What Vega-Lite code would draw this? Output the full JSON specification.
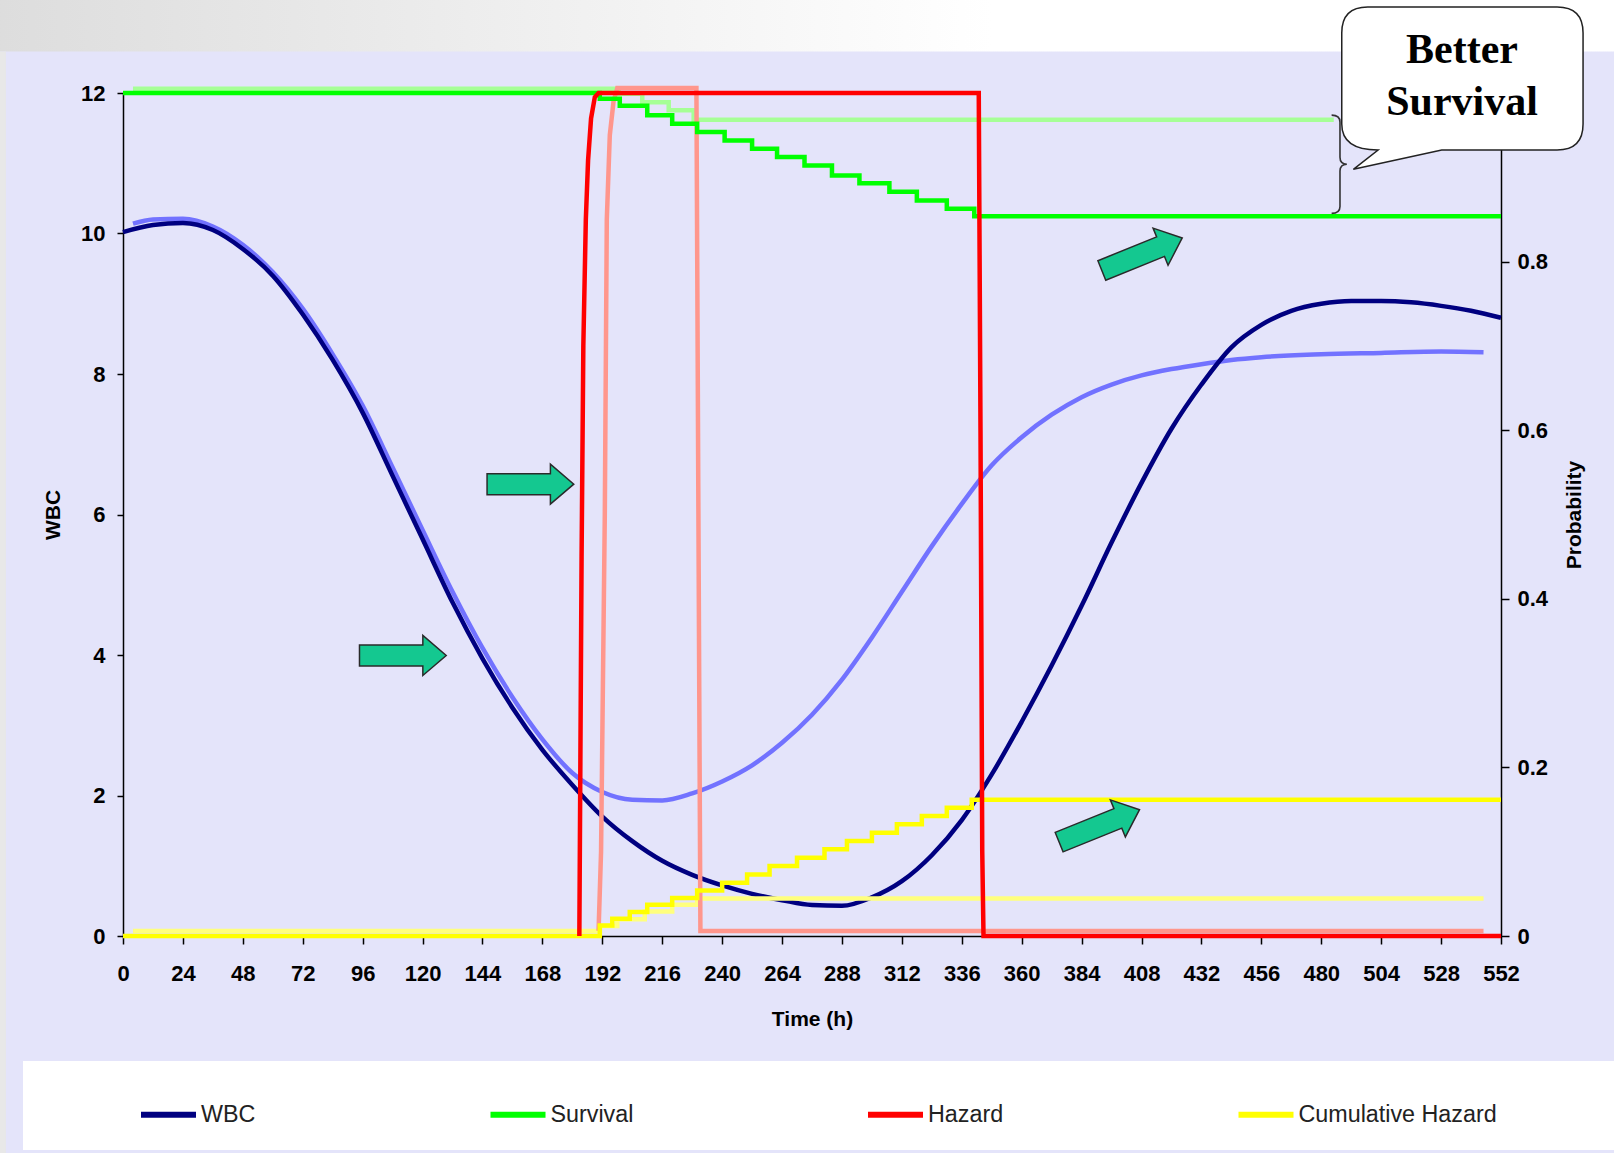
{
  "$schema": "https://vega.github.io/schema/vega-lite/v6.json",
  "width": 1378,
  "height": 843,
  "autosize": {"type": "none"},
  "padding": {"left": 123, "top": 93, "right": 113, "bottom": 217},
  "background": "#E4E4FA",
  "datasets": {
    "wbc": [
      {"t": 0, "wbc": 10.02, "series": "WBC"}, {"t": 12, "wbc": 10.12, "series": "WBC"}, {"t": 24, "wbc": 10.15, "series": "WBC"},
      {"t": 36, "wbc": 10.05, "series": "WBC"}, {"t": 48, "wbc": 9.78, "series": "WBC"}, {"t": 60, "wbc": 9.4, "series": "WBC"},
      {"t": 72, "wbc": 8.85, "series": "WBC"}, {"t": 84, "wbc": 8.2, "series": "WBC"}, {"t": 96, "wbc": 7.45, "series": "WBC"},
      {"t": 108, "wbc": 6.55, "series": "WBC"}, {"t": 120, "wbc": 5.65, "series": "WBC"}, {"t": 132, "wbc": 4.75, "series": "WBC"},
      {"t": 144, "wbc": 3.95, "series": "WBC"}, {"t": 156, "wbc": 3.25, "series": "WBC"}, {"t": 168, "wbc": 2.65, "series": "WBC"},
      {"t": 180, "wbc": 2.15, "series": "WBC"}, {"t": 192, "wbc": 1.7, "series": "WBC"}, {"t": 204, "wbc": 1.35, "series": "WBC"},
      {"t": 216, "wbc": 1.07, "series": "WBC"}, {"t": 228, "wbc": 0.87, "series": "WBC"}, {"t": 240, "wbc": 0.72, "series": "WBC"},
      {"t": 252, "wbc": 0.6, "series": "WBC"}, {"t": 264, "wbc": 0.51, "series": "WBC"}, {"t": 276, "wbc": 0.44, "series": "WBC"},
      {"t": 288, "wbc": 0.43, "series": "WBC"}, {"t": 300, "wbc": 0.55, "series": "WBC"}, {"t": 312, "wbc": 0.78, "series": "WBC"},
      {"t": 324, "wbc": 1.15, "series": "WBC"}, {"t": 336, "wbc": 1.65, "series": "WBC"}, {"t": 348, "wbc": 2.3, "series": "WBC"},
      {"t": 360, "wbc": 3.05, "series": "WBC"}, {"t": 372, "wbc": 3.85, "series": "WBC"}, {"t": 384, "wbc": 4.7, "series": "WBC"},
      {"t": 396, "wbc": 5.6, "series": "WBC"}, {"t": 408, "wbc": 6.45, "series": "WBC"}, {"t": 420, "wbc": 7.22, "series": "WBC"},
      {"t": 432, "wbc": 7.85, "series": "WBC"}, {"t": 444, "wbc": 8.38, "series": "WBC"}, {"t": 456, "wbc": 8.7, "series": "WBC"},
      {"t": 468, "wbc": 8.9, "series": "WBC"}, {"t": 480, "wbc": 9.0, "series": "WBC"}, {"t": 492, "wbc": 9.04, "series": "WBC"},
      {"t": 504, "wbc": 9.04, "series": "WBC"}, {"t": 516, "wbc": 9.02, "series": "WBC"}, {"t": 528, "wbc": 8.97, "series": "WBC"},
      {"t": 540, "wbc": 8.9, "series": "WBC"}, {"t": 552, "wbc": 8.8, "series": "WBC"}
    ],
    "wbc2": [
      {"t": 4, "wbc": 10.14, "series": "WBC 2"}, {"t": 12, "wbc": 10.2, "series": "WBC 2"}, {"t": 24, "wbc": 10.21, "series": "WBC 2"},
      {"t": 36, "wbc": 10.1, "series": "WBC 2"}, {"t": 48, "wbc": 9.84, "series": "WBC 2"}, {"t": 60, "wbc": 9.45, "series": "WBC 2"},
      {"t": 72, "wbc": 8.93, "series": "WBC 2"}, {"t": 84, "wbc": 8.28, "series": "WBC 2"}, {"t": 96, "wbc": 7.55, "series": "WBC 2"},
      {"t": 108, "wbc": 6.67, "series": "WBC 2"}, {"t": 120, "wbc": 5.78, "series": "WBC 2"}, {"t": 132, "wbc": 4.9, "series": "WBC 2"},
      {"t": 144, "wbc": 4.1, "series": "WBC 2"}, {"t": 156, "wbc": 3.4, "series": "WBC 2"}, {"t": 168, "wbc": 2.8, "series": "WBC 2"},
      {"t": 180, "wbc": 2.32, "series": "WBC 2"}, {"t": 192, "wbc": 2.05, "series": "WBC 2"}, {"t": 204, "wbc": 1.94, "series": "WBC 2"},
      {"t": 216, "wbc": 1.93, "series": "WBC 2"}, {"t": 228, "wbc": 2.03, "series": "WBC 2"}, {"t": 240, "wbc": 2.2, "series": "WBC 2"},
      {"t": 252, "wbc": 2.43, "series": "WBC 2"}, {"t": 264, "wbc": 2.75, "series": "WBC 2"}, {"t": 276, "wbc": 3.15, "series": "WBC 2"},
      {"t": 288, "wbc": 3.65, "series": "WBC 2"}, {"t": 300, "wbc": 4.25, "series": "WBC 2"}, {"t": 312, "wbc": 4.9, "series": "WBC 2"},
      {"t": 324, "wbc": 5.55, "series": "WBC 2"}, {"t": 336, "wbc": 6.15, "series": "WBC 2"}, {"t": 348, "wbc": 6.7, "series": "WBC 2"},
      {"t": 360, "wbc": 7.1, "series": "WBC 2"}, {"t": 372, "wbc": 7.42, "series": "WBC 2"}, {"t": 384, "wbc": 7.67, "series": "WBC 2"},
      {"t": 396, "wbc": 7.85, "series": "WBC 2"}, {"t": 408, "wbc": 7.98, "series": "WBC 2"}, {"t": 420, "wbc": 8.07, "series": "WBC 2"},
      {"t": 432, "wbc": 8.14, "series": "WBC 2"}, {"t": 444, "wbc": 8.2, "series": "WBC 2"}, {"t": 456, "wbc": 8.24, "series": "WBC 2"},
      {"t": 480, "wbc": 8.28, "series": "WBC 2"}, {"t": 504, "wbc": 8.3, "series": "WBC 2"}, {"t": 528, "wbc": 8.32, "series": "WBC 2"},
      {"t": 545, "wbc": 8.31, "series": "WBC 2"}
    ],
    "prob": [
      {"t": 0, "p": 1.0, "series": "Survival"}, {"t": 191, "p": 0.9933, "series": "Survival"}, {"t": 199, "p": 0.985, "series": "Survival"},
      {"t": 210, "p": 0.9735, "series": "Survival"}, {"t": 220, "p": 0.9636, "series": "Survival"}, {"t": 230, "p": 0.9536, "series": "Survival"},
      {"t": 241, "p": 0.9438, "series": "Survival"}, {"t": 252, "p": 0.934, "series": "Survival"}, {"t": 262, "p": 0.924, "series": "Survival"},
      {"t": 273, "p": 0.914, "series": "Survival"}, {"t": 284, "p": 0.902, "series": "Survival"}, {"t": 295, "p": 0.893, "series": "Survival"},
      {"t": 307, "p": 0.883, "series": "Survival"}, {"t": 318, "p": 0.8726, "series": "Survival"}, {"t": 330, "p": 0.8627, "series": "Survival"},
      {"t": 341, "p": 0.8537, "series": "Survival"}, {"t": 552, "p": 0.8537, "series": "Survival"},
      {"t": 0, "p": 0.0, "series": "Cumulative Hazard"}, {"t": 191, "p": 0.0126, "series": "Cumulative Hazard"}, {"t": 196, "p": 0.0205, "series": "Cumulative Hazard"},
      {"t": 203, "p": 0.0285, "series": "Cumulative Hazard"}, {"t": 210, "p": 0.0371, "series": "Cumulative Hazard"}, {"t": 220, "p": 0.045, "series": "Cumulative Hazard"},
      {"t": 230, "p": 0.0541, "series": "Cumulative Hazard"}, {"t": 240, "p": 0.0632, "series": "Cumulative Hazard"}, {"t": 250, "p": 0.0731, "series": "Cumulative Hazard"},
      {"t": 259, "p": 0.083, "series": "Cumulative Hazard"}, {"t": 270, "p": 0.0929, "series": "Cumulative Hazard"}, {"t": 281, "p": 0.1028, "series": "Cumulative Hazard"},
      {"t": 290, "p": 0.1127, "series": "Cumulative Hazard"}, {"t": 300, "p": 0.1226, "series": "Cumulative Hazard"}, {"t": 310, "p": 0.1325, "series": "Cumulative Hazard"},
      {"t": 320, "p": 0.1423, "series": "Cumulative Hazard"}, {"t": 330, "p": 0.1522, "series": "Cumulative Hazard"}, {"t": 340, "p": 0.1617, "series": "Cumulative Hazard"},
      {"t": 552, "p": 0.1617, "series": "Cumulative Hazard"},
      {"t": 182.8, "p": 0, "series": "Hazard"}, {"t": 183.2, "p": 0.2, "series": "Hazard"},
      {"t": 183.7, "p": 0.45, "series": "Hazard"}, {"t": 184.4, "p": 0.7, "series": "Hazard"}, {"t": 185.4, "p": 0.85, "series": "Hazard"},
      {"t": 186.3, "p": 0.92, "series": "Hazard"}, {"t": 187.5, "p": 0.97, "series": "Hazard"}, {"t": 189, "p": 0.995, "series": "Hazard"},
      {"t": 190.5, "p": 1.0, "series": "Hazard"}, {"t": 342.8, "p": 1.0, "series": "Hazard"}, {"t": 343.5, "p": 0.6, "series": "Hazard"},
      {"t": 344.2, "p": 0.1, "series": "Hazard"}, {"t": 344.7, "p": 0, "series": "Hazard"}, {"t": 552, "p": 0, "series": "Hazard"}
    ],
    "prob2": [
      {"t": 4, "p": 1.005, "series": "Survival 2"}, {"t": 198.5, "p": 0.999, "series": "Survival 2"}, {"t": 208, "p": 0.989, "series": "Survival 2"},
      {"t": 218.6, "p": 0.9794, "series": "Survival 2"}, {"t": 228.6, "p": 0.9683, "series": "Survival 2"}, {"t": 485, "p": 0.9683, "series": "Survival 2"},
      {"t": 4, "p": 0.006, "series": "Cumulative Hazard 2"}, {"t": 191, "p": 0.012, "series": "Cumulative Hazard 2"}, {"t": 198, "p": 0.02, "series": "Cumulative Hazard 2"},
      {"t": 209, "p": 0.029, "series": "Cumulative Hazard 2"}, {"t": 220, "p": 0.037, "series": "Cumulative Hazard 2"}, {"t": 230, "p": 0.0446, "series": "Cumulative Hazard 2"},
      {"t": 545, "p": 0.0446, "series": "Cumulative Hazard 2"},
      {"t": 190.5, "p": 0.006, "series": "Hazard 2"}, {"t": 191.5, "p": 0.1, "series": "Hazard 2"},
      {"t": 193, "p": 0.5, "series": "Hazard 2"}, {"t": 193.8, "p": 0.85, "series": "Hazard 2"}, {"t": 195, "p": 0.95, "series": "Hazard 2"},
      {"t": 196.5, "p": 0.99, "series": "Hazard 2"}, {"t": 198, "p": 1.006, "series": "Hazard 2"}, {"t": 229.7, "p": 1.006, "series": "Hazard 2"},
      {"t": 230.5, "p": 0.5, "series": "Hazard 2"}, {"t": 231.3, "p": 0.006, "series": "Hazard 2"}, {"t": 545, "p": 0.006, "series": "Hazard 2"}
    ],
    "arrows": [
      {"t": 112.1, "p": 0.3328, "kind": "right"},
      {"t": 163.2, "p": 0.536, "kind": "right"},
      {"t": 408.2, "p": 0.8088, "kind": "upright"},
      {"t": 391.1, "p": 0.1306, "kind": "upright"}
    ],
    "bands": [
      {"t0": -60, "t1": 620, "p0": 1.111, "p1": 1.0492, "part": "top"},
      {"t0": -60, "t1": -46.9, "p0": 1.0492, "p1": -0.27, "part": "side"}
    ],
    "brace": [{"t": 487.5, "p": 0.9155}],
    "bubble": [{"t": 536.4, "p": 1.0059}],
    "note": [{"t": 536.4, "p": 1.0359, "label": "Better\nSurvival"}]
  },
  "encoding": {
    "x": {
      "field": "t", "type": "quantitative",
      "scale": {"domain": [0, 552], "nice": false, "zero": false},
      "axis": {
        "values": [0, 24, 48, 72, 96, 120, 144, 168, 192, 216, 240, 264, 288, 312, 336, 360, 384, 408, 432, 456, 480, 504, 528, 552],
        "title": "Time (h)", "tickSize": 8, "labelPadding": 19, "titlePadding": 24,
        "labelFlush": false, "labelOverlap": false
      }
    }
  },
  "layer": [
    {
      "encoding": {
        "y": {
          "field": "wbc", "type": "quantitative",
          "scale": {"domain": [0, 12], "nice": false},
          "axis": {"orient": "left", "values": [0, 2, 4, 6, 8, 10, 12], "title": "WBC", "tickSize": 6, "labelPadding": 12, "titlePadding": 17}
        }
      },
      "layer": [
        {
          "data": {"name": "wbc2"},
          "mark": {"type": "line", "strokeWidth": 4.5, "interpolate": "monotone"},
          "encoding": {
            "stroke": {"field": "series", "type": "nominal", "legend": null,
              "scale": {"domain": ["WBC 2", "Survival 2", "Hazard 2", "Cumulative Hazard 2"], "range": ["#7272FF", "#A6FF96", "#FF968C", "#FFFF7E"]}}
          }
        },
        {
          "data": {"name": "wbc"},
          "mark": {"type": "line", "strokeWidth": 4.5, "interpolate": "monotone"},
          "encoding": {
            "color": {
              "field": "series", "type": "nominal",
              "scale": {"domain": ["WBC", "Survival", "Hazard", "Cumulative Hazard"], "range": ["#000080", "#00FF00", "#FF0000", "#FFFF00"]},
              "legend": {
                "orient": "none", "legendX": -100, "legendY": 968, "direction": "horizontal", "columns": 4,
                "title": " ", "titleOrient": "right", "titlePadding": 96,
                "symbolType": "stroke", "symbolSize": 3025, "symbolStrokeWidth": 6, "symbolOffset": 92,
                "labelOffset": 2, "columnPadding": 139.5,
                "labelFont": "Liberation Sans", "labelFontSize": 23.3, "labelFontWeight": "normal", "labelColor": "#222222", "labelLimit": 400,
                "fillColor": "#FFFFFF", "padding": 23
              }
            }
          }
        }
      ]
    },
    {
      "encoding": {
        "y": {
          "field": "p", "type": "quantitative",
          "scale": {"domain": [0, 1], "nice": false},
          "axis": {"orient": "right", "values": [0, 0.2, 0.4, 0.6, 0.8], "format": "~g", "title": "Probability", "titleAngle": 270, "tickSize": 8, "labelPadding": 8, "titlePadding": 37}
        }
      },
      "layer": [
        {
          "data": {"name": "bands"},
          "transform": [{"filter": "datum.part == 'top'"}],
          "mark": {"type": "rect", "color": "#E6E6E6", "fill": {"gradient": "linear", "x1": 0, "x2": 1, "y1": 0, "y2": 0, "stops": [{"offset": 0, "color": "#DCDCDC"}, {"offset": 0.6, "color": "#FFFFFF"}, {"offset": 1, "color": "#FFFFFF"}]}},
          "encoding": {
            "x": {"field": "t0", "type": "quantitative"}, "x2": {"field": "t1"},
            "y": {"field": "p0", "type": "quantitative"}, "y2": {"field": "p1"}
          }
        },
        {
          "data": {"name": "bands"},
          "transform": [{"filter": "datum.part == 'side'"}],
          "mark": {"type": "rect", "color": "#E8E8E8"},
          "encoding": {
            "x": {"field": "t0", "type": "quantitative"}, "x2": {"field": "t1"},
            "y": {"field": "p0", "type": "quantitative"}, "y2": {"field": "p1"}
          }
        },
        {
          "data": {"name": "prob2"},
          "transform": [{"filter": "datum.series != 'Hazard 2'"}],
          "mark": {"type": "line", "strokeWidth": 4.5, "interpolate": "step-after"},
          "encoding": {"stroke": {"field": "series", "type": "nominal", "legend": null}}
        },
        {
          "data": {"name": "prob2"},
          "transform": [{"filter": "datum.series == 'Hazard 2'"}],
          "mark": {"type": "line", "strokeWidth": 4.5},
          "encoding": {"stroke": {"field": "series", "type": "nominal", "legend": null}}
        },
        {
          "data": {"name": "prob"},
          "transform": [{"filter": "datum.series != 'Hazard'"}],
          "mark": {"type": "line", "strokeWidth": 4.5, "interpolate": "step-after"},
          "encoding": {"color": {"field": "series", "type": "nominal"}}
        },
        {
          "data": {"name": "prob"},
          "transform": [{"filter": "datum.series == 'Hazard'"}],
          "mark": {"type": "line", "strokeWidth": 4.5},
          "encoding": {"color": {"field": "series", "type": "nominal"}}
        },
        {
          "data": {"name": "arrows"},
          "transform": [{"filter": "datum.kind == 'right'"}],
          "mark": {"type": "point", "filled": true, "fill": "#14C890", "stroke": "#2A2A2A", "strokeWidth": 1.5, "opacity": 1, "size": 10000,
            "shape": "M -0.867 -0.21 L 0.4 -0.21 L 0.4 -0.4 L 0.867 0 L 0.4 0.4 L 0.4 0.21 L -0.867 0.21 Z"}
        },
        {
          "data": {"name": "arrows"},
          "transform": [{"filter": "datum.kind == 'upright'"}],
          "mark": {"type": "point", "filled": true, "fill": "#14C890", "stroke": "#2A2A2A", "strokeWidth": 1.5, "opacity": 1, "size": 10000, "angle": 338,
            "shape": "M -0.867 -0.21 L 0.4 -0.21 L 0.4 -0.4 L 0.867 0 L 0.4 0.4 L 0.4 0.21 L -0.867 0.21 Z"}
        },
        {
          "data": {"name": "brace"},
          "mark": {"type": "point", "filled": false, "stroke": "#333333", "strokeWidth": 1.6, "opacity": 1, "size": 9663,
            "shape": "M -0.17 -1 Q 0 -1 0 -0.86 L 0 -0.14 Q 0 0 0.14 0 Q 0 0 0 0.14 L 0 0.86 Q 0 1 -0.17 1"}
        },
        {
          "data": {"name": "bubble"},
          "mark": {"type": "point", "filled": true, "fill": "#FFFFFF", "stroke": "#222222", "strokeWidth": 1.5, "opacity": 1, "size": 40000,
            "shape": "M -0.943 -0.81 L 0.95 -0.81 Q 1.21 -0.81 1.21 -0.55 L 1.21 0.36 Q 1.21 0.62 0.95 0.62 L -0.203 0.62 L -1.087 0.813 L -0.84 0.62 Q -1.203 0.62 -1.203 0.36 L -1.203 -0.55 Q -1.203 -0.81 -0.943 -0.81 Z"}
        },
        {
          "data": {"name": "note"},
          "mark": {"type": "text", "lineBreak": "\n", "lineHeight": 52, "font": "Liberation Serif", "fontWeight": "bold", "fontSize": 42, "align": "center", "baseline": "alphabetic", "color": "#000000"},
          "encoding": {"text": {"field": "label", "type": "nominal"}}
        }
      ]
    }
  ],
  "resolve": {"scale": {"y": "independent"}},
  "config": {
    "view": {"stroke": null},
    "axis": {
      "grid": false,
      "labelFont": "Liberation Sans", "labelFontWeight": "bold", "labelFontSize": 22, "labelColor": "#000000",
      "titleFont": "Liberation Sans", "titleFontWeight": "bold", "titleFontSize": 21, "titleColor": "#000000",
      "domainColor": "#000000", "domainWidth": 1.5, "tickColor": "#000000", "tickWidth": 1.5
    }
  }
}
